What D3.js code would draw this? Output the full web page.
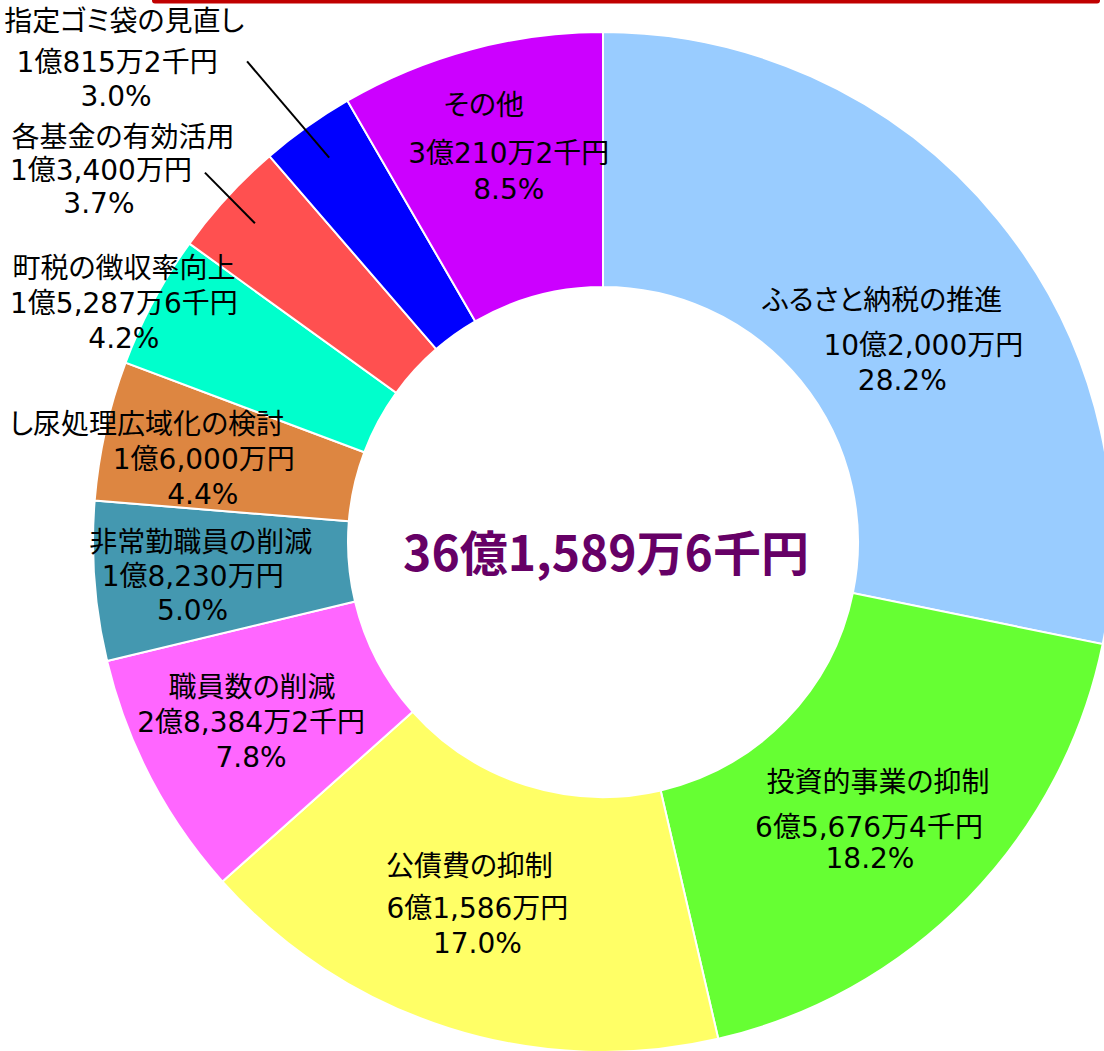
<!DOCTYPE html>
<html lang="ja">
<head>
  <meta charset="UTF-8" />
  <title>削減額の内訳</title>
  <style>
    html, body {
      margin: 0;
      padding: 0;
      background: #fff;
    }

    svg {
      display: block;
    }

    .slice {
      stroke: #fff;
      stroke-width: 2;
    }

    .label {
      fill: #000;
      font-family: "DejaVu Sans", "Noto Sans CJK JP", sans-serif;
      font-size: 28px;
      font-feature-settings: "palt";
    }

    .total {
      fill: #660066;
      font-family: "Noto Sans CJK JP", sans-serif;
      font-weight: bold;
      font-size: 48px;
    }

    .leader {
      stroke: #000;
      stroke-width: 2;
    }
  </style>
</head>
<body>
  <svg width="1104" height="1051"></svg>

  <script src="https://d3js.org/d3.v7.min.js"></script>
  <script>
    // data (万円)
    const names = [
      "ふるさと納税の推進", "投資的事業の抑制", "公債費の抑制", "職員数の削減",
      "非常勤職員の削減", "し尿処理広域化の検討", "町税の徴収率向上",
      "各基金の有効活用", "指定ゴミ袋の見直し", "その他"
    ];
    const amounts = [102000, 65676.4, 61586, 28384.2, 18230, 16000, 15287.6, 13400, 10815.2, 30210.2];
    const amountLabels = [
      "10億2,000万円", "6億5,676万4千円", "6億1,586万円", "2億8,384万2千円",
      "1億8,230万円", "1億6,000万円", "1億5,287万6千円", "1億3,400万円",
      "1億815万2千円", "3億210万2千円"
    ];
    const pctLabels = ["28.2%", "18.2%", "17.0%", "7.8%", "5.0%", "4.4%", "4.2%", "3.7%", "3.0%", "8.5%"];
    const colors = [
      "#99CCFF", "#66FF33", "#FFFF66", "#FF66FF", "#4498B0",
      "#DD8641", "#00FFCC", "#FF5050", "#0000FF", "#CC00FF"
    ];
    const totalLabel = "36億1,589万6千円";

    // label placement, relative to each slice centroid (one entry per text line)
    const labelDx = [
      [-17, 24, 3], [1, -8, -7], [-18, -10, -10], [-12, -13, -13], [-21, -29, -29],
      [-83, -26, -27], [-142, -142, -142], [-198, -220, -222], [-257, -264, -265], [-20, 5, 5]
    ];
    const labelDy = [
      [0, 45, 80], [-27, 18, 49], [-41, 1, 36], [-32, 3, 38], [-29, 5, 39],
      [-34, 1, 36], [-93, -58, -23], [-147, -114, -81], [-209, -168, -134], [-68, -20, 16]
    ];
    // leader lines for the small outside labels: start offset from centroid
    const leaders = [
      { index: 7, dx: -116, dy: -111 },
      { index: 8, dx: -134, dy: -169 }
    ];

    const svg = d3.select("svg");
    const cx = 603, cy = 542;
    const outerR = 510, innerR = 255;

    // red rule at the top
    svg.append("rect")
      .attr("x", 152)
      .attr("y", -6)
      .attr("width", 948)
      .attr("height", 9.5)
      .attr("rx", 3)
      .attr("fill", "#C00000");

    const g = svg.append("g")
      .attr("transform", `translate(${cx},${cy})`);

    const pie = d3.pie()
      .sort(null)
      .value(d => d);

    const arcs = pie(amounts);

    const arc = d3.arc()
      .innerRadius(innerR)
      .outerRadius(outerR);

    const midArc = d3.arc()
      .innerRadius(382.5)
      .outerRadius(382.5);

    const leaderArc = d3.arc()
      .innerRadius(472)
      .outerRadius(472);

    g.selectAll(".slice")
      .data(arcs)
      .enter()
      .append("path")
      .attr("class", "slice")
      .attr("d", arc)
      .attr("fill", (d, i) => colors[i]);

    leaders.forEach(l => {
      const c = midArc.centroid(arcs[l.index]);
      const e = leaderArc.centroid(arcs[l.index]);
      g.append("line")
        .attr("class", "leader")
        .attr("x1", c[0] + l.dx)
        .attr("y1", c[1] + l.dy)
        .attr("x2", e[0])
        .attr("y2", e[1]);
    });

    arcs.forEach((a, i) => {
      const c = midArc.centroid(a);
      const lines = [names[i], amountLabels[i], pctLabels[i]];
      lines.forEach((t, j) => {
        g.append("text")
          .attr("class", "label")
          .attr("x", c[0] + labelDx[i][j])
          .attr("y", c[1] + labelDy[i][j] + 10)
          .attr("text-anchor", "middle")
          .text(t);
      });
    });

    g.append("text")
      .attr("class", "total")
      .attr("x", 3)
      .attr("y", 8)
      .attr("text-anchor", "middle")
      .attr("dominant-baseline", "central")
      .text(totalLabel);
  </script>
</body>
</html>
